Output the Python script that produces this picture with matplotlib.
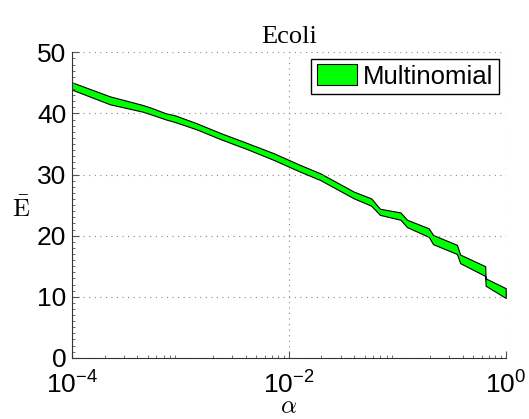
import numpy as np
from matplotlib import pyplot as plt
from matplotlib.ticker import LogLocator, MultipleLocator

# band of the Multinomial curve
alpha = [1e-4, 2.24e-4, 4.47e-4, 5.25e-4, 7.41e-4, 8.91e-4, 1.41e-3, 2.34e-3,
         4.07e-3, 7.24e-3, 1.26e-2, 1.95e-2, 3.98e-2, 5.75e-2, 6.92e-2, 0.107,
         0.123, 0.195, 0.214, 0.355, 0.380, 0.646, 0.653, 1.0]
upper = [45.1, 42.8, 41.4, 41.0, 40.0, 39.7, 38.4, 36.8, 35.2, 33.5, 31.6, 30.2,
         27.2, 26.1, 24.4, 23.8, 22.6, 21.2, 20.1, 18.5, 16.9, 15.0, 13.0, 11.4]
lower = [43.9, 41.5, 40.3, 39.9, 39.0, 38.6, 37.4, 35.8, 34.2, 32.4, 30.5, 29.1,
         26.1, 24.9, 23.4, 22.6, 21.4, 19.8, 18.6, 17.0, 15.5, 13.4, 11.8, 9.8]

xticks = [1e-4, 1e-2, 1e0]
yticks = [0, 10, 20, 30, 40, 50]

plt.rcParams['font.family'] = ['Liberation Sans', 'DejaVu Sans']
plt.rcParams['mathtext.fontset'] = 'cm'

fig = plt.figure(figsize=(5.29, 4.19), dpi=100)
ax = fig.add_axes([0.136, 0.146, 0.820, 0.729])

ax.fill_between(alpha, lower, upper, facecolor='#00ff00', edgecolor='black',
                linewidth=0.8, label='Multinomial')

ax.set_xscale('log')
ax.set_xlim(1e-4, 1)
ax.set_ylim(0, 50)
ax.set_xticks(xticks)
ax.set_yticks(yticks)
ax.xaxis.set_minor_locator(LogLocator(base=10, subs=np.arange(2, 10), numticks=20))
ax.yaxis.set_minor_locator(MultipleLocator(1))

ax.grid(True, which='major', linestyle=(0, (1, 4)), color='#888888', linewidth=0.8)
ax.spines['top'].set_visible(False)
ax.spines['right'].set_visible(False)
ax.spines['left'].set_color('#333333')
ax.spines['bottom'].set_color('#333333')
ax.tick_params(which='both', direction='in', labelsize=19, color='#555555')
ax.tick_params(which='major', length=5)
ax.tick_params(which='minor', length=2)
ax.tick_params(axis='x', pad=10)
ax.tick_params(axis='y', pad=4)

ax.set_title('Ecoli', family='Liberation Serif', fontsize=19, pad=7)
ax.set_xlabel(r'$\alpha$', fontsize=18, va='center')
ax.xaxis.set_label_coords(0.5, -0.158)
ax.set_ylabel(r'$\bar{\mathrm{E}}$', fontsize=18, rotation=0, va='center', ha='center')
ax.yaxis.set_label_coords(-0.118, 0.49)

leg = ax.legend(loc='upper right', fontsize=18.5, handlelength=1.55, handleheight=0.85,
                handletextpad=0.25, borderpad=0.22, borderaxespad=0.25,
                fancybox=False, framealpha=1)
leg.get_frame().set_edgecolor('black')
leg.get_frame().set_linewidth(1.0)

fig.savefig('out.png', dpi=100)
